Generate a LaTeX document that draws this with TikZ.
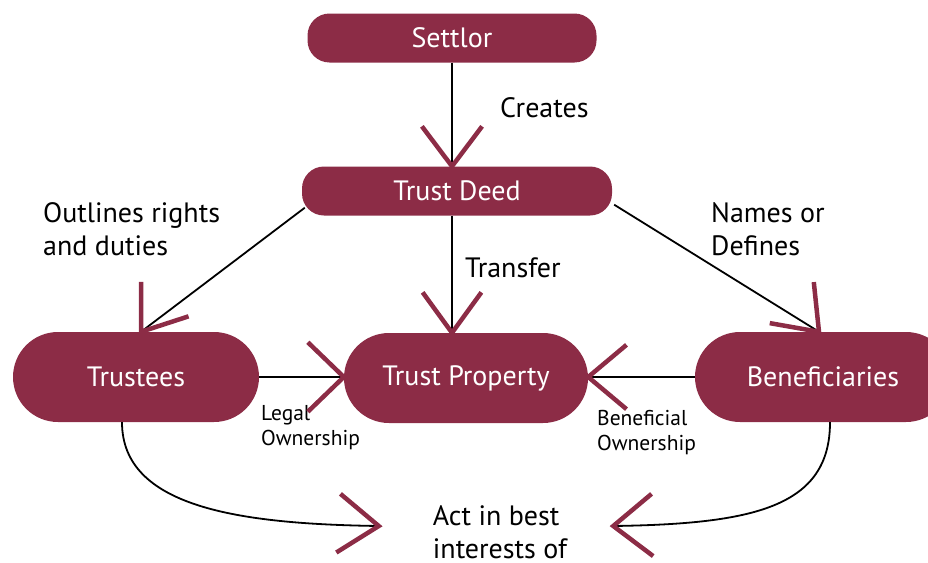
\documentclass[tikz,border=0pt]{standalone}
\usepackage{fontspec}
\setmainfont{PT Sans}
\usetikzlibrary{calc}
\definecolor{trustred}{RGB}{140,44,70}

% open V head: tip, then the two arm angles as seen on the page
\newcommand{\vhead}[3]{\draw[barb] (#1) ++({-1*(#2)}:50) -- (#1) -- ++({-1*(#3)}:50);}

\begin{document}
\begin{tikzpicture}[
    x=1pt, y=-1pt,
    box/.style={
      rectangle, rounded corners=22pt, fill=trustred,
      minimum height=49pt, text=white,
      font=\fontsize{28}{32}\selectfont
    },
    pill/.style={
      rectangle, rounded corners=45pt, fill=trustred,
      minimum height=90pt, text=white,
      font=\fontsize{28}{32}\selectfont
    },
    lbl/.style={inner sep=0pt, font=\fontsize{28}{33}\selectfont},
    small/.style={inner sep=0pt, font=\fontsize{21.5}{25}\selectfont},
    link/.style={line width=1.8pt, black},
    barb/.style={draw=trustred, line width=4.5pt}
  ]
  \useasboundingbox (0,0) rectangle (928,562);

  %% ===== boxes =====
  \node[box, minimum width=289pt] (settlor) at (452,38)  {Settlor};
  \node[box, minimum width=310pt] (deed)    at (457,191) {Trust Deed};

  \node[pill, minimum width=246pt] (trustees) at (136,377) {Trustees};
  \node[pill, minimum width=244pt] (prop)     at (466,378) {Trust Property};
  \node[pill, minimum width=256pt] (benef)    at (823,377) {Beneficiaries};

  %% ===== labels =====
  \node[lbl, anchor=west] (creates) at (500,108) {Creates};
  \node[lbl, anchor=west, align=left] (outlines) at (43,229) {Outlines rights\\and duties};
  \node[lbl, anchor=west] (transfer) at (465,268) {Transfer};
  \node[lbl, anchor=west, align=left] (names) at (711,229) {Names or\\Defines};
  \node[small, anchor=west, align=left] (legal) at (261,428) {Legal\\Ownership};
  \node[small, anchor=west, align=left] (benown) at (597,433) {Beneficial\\Ownership};
  \node[lbl, align=left] (act) at (500,532) {Act in best\\interests of};

  %% ===== connectors =====
  \draw[link] (settlor.south) -- (settlor |- deed.north) coordinate (tipS);
  \vhead{tipS}{127}{53}

  \draw[link] ($(deed.south west)+(3,-8)$) -- ($(trustees.north)+(5,0)$) coordinate (tipT);
  \vhead{tipT}{90}{18}

  \draw[link] (deed.south -| settlor) -- (settlor |- prop.north) coordinate (tipP);
  \vhead{tipP}{126}{54}

  \draw[link] ($(deed.south east)+(2,-11)$) -- ($(benef.north)+(-4,0)$) coordinate (tipB);
  \vhead{tipB}{96}{170}

  \draw[link] (trustees.east) -- (trustees.east -| prop.west) coordinate (tipL);
  \vhead{tipL}{136}{224}

  \draw[link] (benef.west) -- (benef.west -| prop.east) coordinate (tipR);
  \vhead{tipR}{40}{-40}

  %% --- curves down to the bottom text ---
  \coordinate (actL) at ($(act.west)+(-54,-6)$);
  \coordinate (actR) at ($(act.east)+(46,-6)$);
  \draw[link] ($(trustees.south)+(-14,0)$) .. controls +(0,85) and +(-140,-2) .. (actL);
  \vhead{actL}{140}{212}
  \draw[link] ($(benef.south)+(7,0)$) .. controls +(0,85) and +(140,-2) .. (actR);
  \vhead{actR}{40}{-37}
\end{tikzpicture}
\end{document}
